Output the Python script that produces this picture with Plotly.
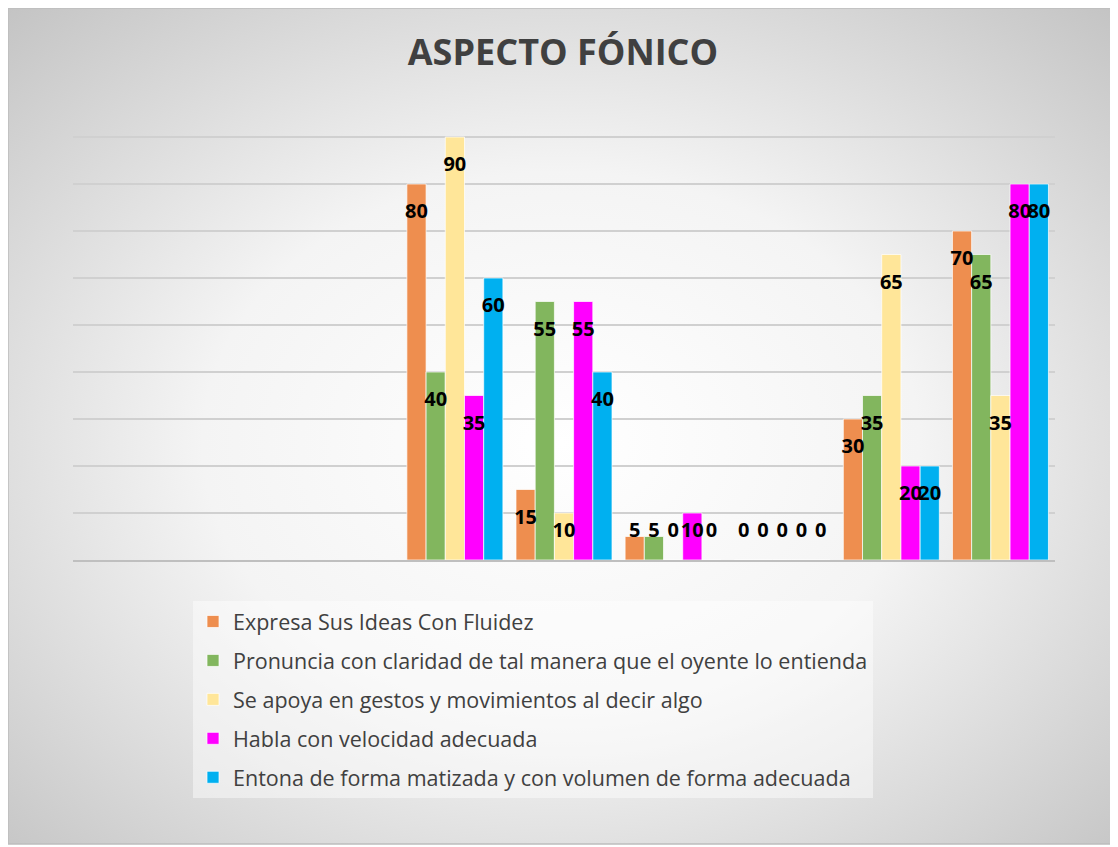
import plotly.graph_objects as go

title = "ASPECTO FÓNICO"
categories = [0, 1, 2, 3, 4, 5, 6, 7, 8]
series_names = [
    "Expresa Sus Ideas Con Fluidez",
    "Pronuncia con claridad de tal manera que el oyente lo entienda",
    "Se apoya en gestos y movimientos al decir algo",
    "Habla con velocidad adecuada",
    "Entona de forma matizada y con volumen de forma adecuada",
]
expresa = [None, None, None, 80, 15, 5, 0, 30, 70]
pronuncia = [None, None, None, 40, 55, 5, 0, 35, 65]
gestos = [None, None, None, 90, 10, 0, 0, 65, 35]
velocidad = [None, None, None, 35, 55, 10, 0, 20, 80]
entona = [None, None, None, 60, 40, 0, 0, 20, 80]
series_values = [expresa, pronuncia, gestos, velocidad, entona]
colors = ["#EE8E4F", "#82B65E", "#FFE699", "#FF00FF", "#00B0F0"]

# the page has an 8px body margin, so the figure is drawn from (8, 8)
OFF = 8
W, H = 1118 - OFF, 847 - OFF
L, T = 73 - OFF, 90 - OFF
pw, ph = 982, 470
R, B = W - L - pw, H - T - ph

bw = 0.176
start = -0.44

fig = go.Figure()
for k, (name, vals, col) in enumerate(zip(series_names, series_values, colors)):
    off = start + k * bw
    fig.add_trace(go.Bar(
        x=categories, y=vals, name=name, width=bw, offset=off,
        marker=dict(color=col, line=dict(color="rgba(255,255,255,0.7)", width=1)),
        legendgroup=str(k),
    ))
for k, vals in enumerate(series_values):
    xs, ys, ts = [], [], []
    for c, v in zip(categories, vals):
        if v is None:
            continue
        xs.append(c + start + (k + 0.5) * bw)
        ys.append(max(v - 6.2, 6))
        ts.append(str(v))
    fig.add_trace(go.Scatter(
        x=xs, y=ys, text=ts, mode="text", showlegend=False, hoverinfo="skip",
        textfont=dict(family="Open Sans", size=20, color="black", weight="bold"),
        cliponaxis=False,
    ))

svg = ("data:image/svg+xml;utf8,"
       "<svg xmlns='http://www.w3.org/2000/svg' width='1110' height='839'>"
       "<defs><radialGradient id='g' cx='0.5' cy='0.52' r='0.72'>"
       "<stop offset='0' stop-color='%23ffffff'/><stop offset='0.45' stop-color='%23f4f4f4'/>"
       "<stop offset='1' stop-color='%23c4c4c4'/></radialGradient></defs>"
       "<rect x='0' y='0' width='1110' height='839' fill='white'/>"
       "<rect x='0' y='0' width='1106' height='836' fill='url(%23g)' stroke='%23bdbdbd' stroke-width='1.5'/>"
       "</svg>")

fig.update_layout(
    width=W, height=H,
    margin=dict(l=L, r=R, t=T, b=B),
    paper_bgcolor="white", plot_bgcolor="rgba(0,0,0,0)",
    images=[dict(source=svg, xref="paper", yref="paper",
                 x=-L / pw, y=1 + T / ph, sizex=W / pw, sizey=H / ph,
                 xanchor="left", yanchor="top", sizing="stretch", layer="below")],
    title=dict(text=title, x=0.5, xanchor="center",
               y=1 - (52 - OFF) / H, yanchor="middle",
               font=dict(family="Open Sans", size=36, color="#404040", weight="bold")),
    barmode="overlay",
    showlegend=True,
    legend=dict(x=(193 - OFF - L) / pw, y=(560 - 601) / ph, xanchor="left", yanchor="top",
                bgcolor="rgba(255,255,255,0.45)", borderwidth=0,
                font=dict(family="Open Sans", size=21.5, color="#404040"),
                traceorder="grouped", tracegroupgap=8),
    xaxis=dict(range=[-0.5, 8.5], showticklabels=False, showgrid=False, zeroline=False,
               showline=True, linecolor="#bfbfbf", linewidth=1.5, ticks=""),
    yaxis=dict(range=[0, 100], dtick=10, showticklabels=False, showgrid=True,
               gridcolor="#d0d0d0", gridwidth=1.5, zeroline=False, showline=False),
)

fig.write_html("out.html")
